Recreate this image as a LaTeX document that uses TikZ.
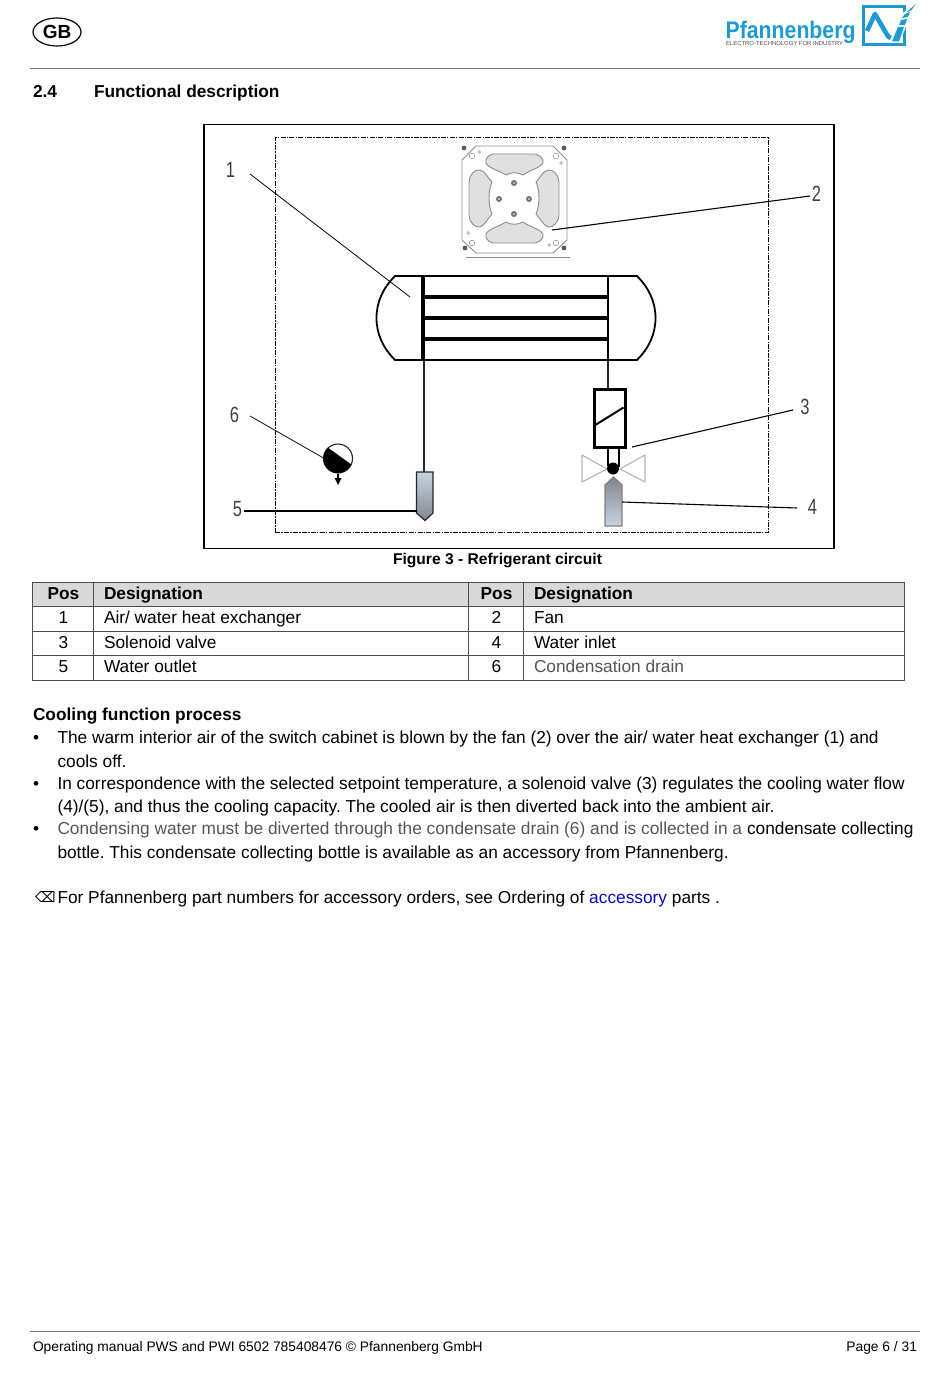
\documentclass[tikz,border=0pt]{standalone}
\usepackage{fontspec}
\usetikzlibrary{shapes.geometric}
\setmainfont{Liberation Sans}
\newfontfamily\symfont{DejaVu Sans}
\frenchspacing
\definecolor{pblue}{HTML}{1E9AD0}
\definecolor{rulegrey}{HTML}{7A7A7A}
\definecolor{headgrey}{HTML}{D9D9D9}
\definecolor{softtext}{HTML}{555555}
\definecolor{linkblue}{HTML}{0A0ABE}
\definecolor{bladegrey}{HTML}{E0E0E0}
\definecolor{fanline}{HTML}{8C8C8C}
\definecolor{valvegrey}{HTML}{B4B4B4}
\definecolor{bottlelight}{HTML}{C8D3E0}
\definecolor{bottledark}{HTML}{81868F}
\tikzset{
  body/.style={anchor=base west,inner sep=0pt,outer sep=0pt,font=\fontsize{17.3}{20}\selectfont},
  bodyc/.style={anchor=base,inner sep=0pt,outer sep=0pt,font=\fontsize{17.3}{20}\selectfont},
  headb/.style={anchor=base west,inner sep=0pt,outer sep=0pt,font=\fontsize{17.3}{20}\selectfont\bfseries},
  headc/.style={anchor=base,inner sep=0pt,outer sep=0pt,font=\fontsize{17.3}{20}\selectfont\bfseries},
  foot/.style={anchor=base west,inner sep=0pt,outer sep=0pt,font=\fontsize{13.8}{16}\selectfont},
  poslabel/.style={inner sep=0pt,outer sep=0pt,text=black!75,xscale=.75,font=\fontsize{22}{24}\selectfont},
  leader/.style={draw=black,line width=.8pt},
  heavy/.style={draw=black,line width=3.4pt},
  pipe/.style={draw=black!85,line width=1.3pt},
  grid/.style={draw=black!70,line width=1pt},
  blade/.style={draw=fanline,fill=bladegrey,line width=.9pt},
  sensor/.style={draw=black!85,line width=1.1pt},
}
\begin{document}
\begin{tikzpicture}[x=1pt,y=-1pt]
\useasboundingbox (0,0) rectangle (950,1378);
% header
\node[draw=black,line width=1.2pt,ellipse,minimum width=48pt,minimum height=28pt,inner sep=0pt,font=\fontsize{19}{20}\selectfont\bfseries] (gb) at (57,32) {GB};
\node[anchor=base west,inner sep=0pt,text=pblue,font=\fontsize{24}{26}\selectfont\bfseries,xscale=.885] (brand) at (725.5,38.5) {Pfannenberg};
\node[anchor=base west,inner sep=0pt,text=black!70,font=\fontsize{5.9}{7}\selectfont] (tag) at (726,46) {ELECTRO-TECHNOLOGY FOR INDUSTRY};
\draw[pblue,line width=3pt] (863,7) rectangle (904,45);
\draw[pblue,line width=4.6pt,line join=round] (867,31) -- (875,14) -- (886,33) .. controls (889,39) and (892,39) .. (895,36);
\fill[white] (889,43) -- (900,15) -- (917,3) -- (908,22) -- (899,43) -- cycle;
\fill[pblue] (892,41.5) -- (899,41.5) -- (904,27) -- (898,27) -- cycle;
\fill[pblue] (899,25) -- (905,25) -- (907,19) -- (901,20) -- cycle;
\fill[pblue] (902,18) -- (908,17) -- (910,12) -- (905,14) -- cycle;
\fill[pblue] (906,12.5) -- (911,10.5) -- (916,4) -- cycle;
\draw[rulegrey,line width=1pt] (30,68.5) -- (920,68.5);
\node[headb] (secno) at (33,97.5) {2.4};
\node[headb] (sect) at (94,97.5) {Functional description};
% figure frame
\node[draw=black,line width=1.5pt,minimum width=630pt,minimum height=424pt,inner sep=0pt,anchor=north west] (frame) at (203.3,123.6) {};
\node[draw=black,line width=1.2pt,dash pattern=on 5pt off 1.2pt on 1.5pt off 1.2pt,minimum width=493pt,minimum height=395pt,inner sep=0pt,anchor=north west] (cabinet) at (274.5,137) {};
% fan
\draw[fanline,line width=.9pt,fill=white] (476,146) -- (553,146) -- (567,160) -- (567,240) -- (553,253) -- (476,253) -- (462,240) -- (462,160) -- cycle;
\draw[fanline,line width=1.2pt] (466,257.5) -- (570,257.5);
\draw[blade] (493,154) -- (535,154) .. controls (540,155) and (544,159) .. (543,163) .. controls (540,168) and (530,170) .. (523,175) .. controls (518,172) and (510,172) .. (506,175) .. controls (498,170) and (488,168) .. (486,163) .. controls (485,159) and (488,155) .. (493,154) -- cycle;
\draw[blade] (493,243) -- (535,243) .. controls (540,242) and (544,238) .. (543,234) .. controls (540,229) and (530,227) .. (523,222) .. controls (518,225) and (510,225) .. (506,222) .. controls (498,227) and (488,229) .. (486,234) .. controls (485,238) and (488,242) .. (493,243) -- cycle;
\draw[blade] (469,182) -- (469,215) .. controls (469,222) and (475,228) .. (480,227) .. controls (485,225) and (488,218) .. (492,214) .. controls (488,205) and (488,191) .. (492,182) .. controls (488,178) and (485,171) .. (480,170) .. controls (475,169) and (469,175) .. (469,182) -- cycle;
\draw[blade] (559,182) -- (559,215) .. controls (559,222) and (553,228) .. (548,227) .. controls (543,225) and (540,218) .. (536,214) .. controls (540,205) and (540,191) .. (536,182) .. controls (540,178) and (543,171) .. (548,170) .. controls (553,169) and (559,175) .. (559,182) -- cycle;
\foreach \hx/\hy in {514/183,499/199,529/199,514/214}{\fill[fanline!80!black] (\hx,\hy) circle (3pt); \fill[fanline!40] (\hx,\hy) circle (1.2pt);}
\foreach \hx/\hy in {464/148,564/148,465/248,564/248}{\fill[black!65] (\hx,\hy) circle (2.4pt);}
\foreach \hx/\hy in {479/152,561/163,468/233,549/245}{\draw[fanline,line width=.5pt] (\hx,\hy) circle (1.4pt);}
\foreach \hx/\hy in {472/156,556/156,472/243,556/243}{\draw[fanline,line width=.5pt] (\hx,\hy) circle (2.8pt);}
% heat exchanger
\coordinate (hxtl) at (423,276); \coordinate (hxtr) at (608,276);
\coordinate (hxbl) at (423,360); \coordinate (hxbr) at (608,360);
\draw[black,line width=1.8pt] (hxtl) -- (395,276) .. controls (383,288) and (376.5,302) .. (376.5,318) .. controls (376.5,334) and (383,348) .. (395,360) -- (hxbl);
\draw[black,line width=1.8pt] (hxtr) -- (637,276) .. controls (649,288) and (655.5,302) .. (655.5,318) .. controls (655.5,334) and (649,348) .. (637,360) -- (hxbr);
\draw[black,line width=2pt] (hxtl) -- (hxtr);
\draw[black,line width=2pt] (hxbl) -- (hxbr);
\draw[heavy] (hxtl) -- (hxbl);
\draw[black,line width=2.6pt] (hxtr) -- (hxbr);
\foreach \ry in {297,318,339}{\draw[black,line width=3.2pt] (423,\ry) -- (608,\ry);}
% outlet bottle
\shade[top color=bottlelight,bottom color=bottledark,draw=black!85,line width=1.2pt] (416.5,472) -- (433,472) -- (433,513) -- (425,520.5) -- (416.5,513) -- cycle;
% inlet bottle
\shade[top color=bottledark,bottom color=bottlelight,draw=black!50,line width=1.2pt] (613.5,477) -- (622,485) -- (622,526) -- (605,526) -- (605,485) -- cycle;
% pipes
\coordinate (outtop) at (424,472);
\draw[pipe] (424,360) -- (outtop);
\coordinate (soltop) at (608,388);
\draw[pipe] (608,360) -- (soltop);
% solenoid
\node[draw=black,line width=3pt,minimum width=31pt,minimum height=58pt,inner sep=0pt,anchor=north west] (sol) at (592.8,387.8) {};
\draw[black,line width=2pt] (594.5,425.5) -- (623.5,407.5);
\draw[black,line width=1.8pt] (608,447) -- (608,466);
\draw[black,line width=1.1pt] (619,447) -- (619,467);
% valve
\draw[valvegrey,line width=1.1pt,line join=round] (607,469) -- (582,455) -- (582,482) -- cycle;
\draw[valvegrey,line width=1.1pt,line join=round] (620,469) -- (645,455) -- (645,482) -- cycle;
\node[circle,fill=black,minimum size=12pt,inner sep=0pt] (ball) at (613,468.5) {};
% drain gauge
\node[circle,sensor,fill=white,minimum size=29pt,inner sep=0pt] (gauge) at (338,458.5) {};
\begin{scope}
\clip (338,458.5) circle (14.5pt);
\fill[black] (320,441.96) -- (360,470.76) -- (360,480) -- (320,480) -- cycle;
\end{scope}
\coordinate (arrowtip) at (338,485);
\draw[black,line width=1.3pt] (gauge.south) -- (338,478);
\fill[black] (334.5,478) -- (341.5,478) -- (arrowtip) -- cycle;
% position labels
\node[poslabel] (p1) at (230.5,170) {1};
\node[poslabel] (p2) at (816.5,194) {2};
\node[poslabel] (p3) at (805,407) {3};
\node[poslabel] (p4) at (812.5,507) {4};
\node[poslabel] (p5) at (237.5,509) {5};
\node[poslabel] (p6) at (234.5,415) {6};
% leaders
\coordinate (t1) at (410,297);
\coordinate (t2) at (552,230);
\coordinate (t3) at (632,447);
\coordinate (t4) at (622,502);
\coordinate (t5) at (417,511);
\coordinate (s1) at (250,174);
\coordinate (s2) at (810,196);
\coordinate (s3) at (793,410);
\coordinate (s4) at (797,508);
\coordinate (s5) at (244,511);
\coordinate (s6) at (250,416);
\draw[leader] (s1) -- (t1);
\draw[leader,line width=1.1pt] (s2) -- (t2);
\draw[leader,line width=1.1pt] (s3) -- (t3);
\draw[leader,line width=1.1pt] (s4) -- (t4);
\draw[leader,line width=1.4pt] (s5) -- (t5);
\draw[leader] (s6) -- (323.5,458);
\node[headc,font=\fontsize{15.6}{18}\selectfont\bfseries] (cap) at (497.5,564) {Figure 3 - Refrigerant circuit};
% table
\fill[headgrey] (32.5,582) rectangle (904.5,606.5);
\draw[grid] (32.5,582) rectangle (904.5,680.5);
\foreach \ry in {606.5,631,655.5}{\draw[grid] (32.5,\ry) -- (904.5,\ry);}
\foreach \cx in {93.5,468.5,523.5}{\draw[grid] (\cx,582) -- (\cx,680.5);}
\node[headc] (h1) at (63.5,599) {Pos};
\node[headb] (h2) at (104,599) {Designation};
\node[headc] (h3) at (496.5,599) {Pos};
\node[headb] (h4) at (534,599) {Designation};
\node[bodyc] (a1) at (63.5,623) {1};
\node[body] (a2) at (104,623) {Air/ water heat exchanger};
\node[bodyc] (a3) at (496.5,623) {2};
\node[body] (a4) at (534,623) {Fan};
\node[bodyc] (b1) at (63.5,648) {3};
\node[body] (b2) at (104,648) {Solenoid valve};
\node[bodyc] (b3) at (496.5,648) {4};
\node[body] (b4) at (534,648) {Water inlet};
\node[bodyc] (c1) at (63.5,672) {5};
\node[body] (c2) at (104,672) {Water outlet};
\node[bodyc] (c3) at (496.5,672) {6};
\node[body,text=softtext] (c4) at (534,672) {Condensation drain};
% text
\node[headb] (cool) at (33,720) {Cooling function process};
\node[body] (d1) at (33,743) {•};
\node[body] (l1) at (57.5,743) {The warm interior air of the switch cabinet is blown by the fan (2) over the air/ water heat exchanger (1) and};
\node[body] (l2) at (57.5,767) {cools off.};
\node[body] (d2) at (33,789) {•};
\node[body] (l3) at (57.5,789) {In correspondence with the selected setpoint temperature, a solenoid valve (3) regulates the cooling water flow};
\node[body] (l4) at (57.5,812) {(4)/(5), and thus the cooling capacity. The cooled air is then diverted back into the ambient air.};
\node[body] (d3) at (33,834) {•};
\node[body] (l5) at (57.5,834) {\textcolor{softtext}{Condensing water must be diverted through the condensate drain (6) and is collected in a} condensate collecting};
\node[body] (l6) at (57.5,858) {bottle. This condensate collecting bottle is available as an accessory from Pfannenberg.};
\node[anchor=base west,inner sep=0pt,font=\fontsize{14.5}{18}\selectfont\symfont] (noteicon) at (35,902.5) {⌫};
\node[body] (l7) at (57.5,903) {For Pfannenberg part numbers for accessory orders, see Ordering of \textcolor{linkblue}{accessory} parts .};
% footer
\draw[rulegrey,line width=1pt] (30,1331) -- (920,1331);
\node[foot] (f1) at (33,1351) {Operating manual PWS and PWI 6502 785408476 © Pfannenberg GmbH};
\node[foot,anchor=base east] (f2) at (917,1351) {Page 6 / 31};
\end{tikzpicture}
\end{document}
